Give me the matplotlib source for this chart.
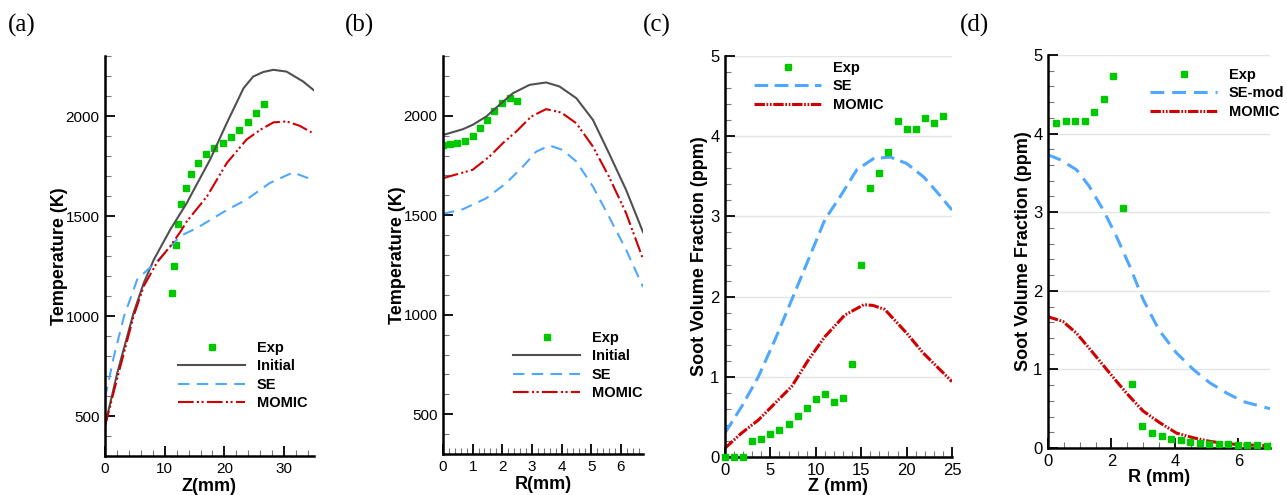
import matplotlib
matplotlib.use("Agg")
import matplotlib.pyplot as plt
from matplotlib.ticker import MultipleLocator

plt.rcParams['font.family'] = ['Liberation Sans', 'DejaVu Sans']

# (a) temperature along the axis
a_init_z = [0, 2.07, 4.8, 6.5, 8.2, 10.95, 13.7, 14.3, 17.6, 20.4, 23.2, 24.8, 26.5, 28.2, 30.4, 33.2, 35]
a_init_T = [452, 717, 1017, 1166, 1283, 1433, 1565, 1599, 1782, 1965, 2139, 2197, 2220, 2231, 2222, 2172, 2128]
a_se_z = [0, 1.5, 3.2, 5.4, 9, 12.6, 15.4, 20.4, 23.7, 27.6, 31.5, 35]
a_se_T = [590, 800, 1000, 1183, 1283, 1400, 1440, 1530, 1582, 1665, 1718, 1678]
a_mo_z = [0, 2.3, 4.8, 6.5, 8.7, 10.95, 12.6, 13.7, 17.1, 20.4, 23.7, 26, 28.2, 30.4, 32.6, 34.6]
a_mo_T = [450, 717, 1000, 1150, 1267, 1350, 1420, 1473, 1599, 1765, 1882, 1931, 1968, 1973, 1951, 1918]
a_exp_z = [11.3, 11.6, 11.9, 12.2, 12.8, 13.6, 14.45, 15.5, 16.9, 18.3, 19.7, 21.1, 22.5, 23.9, 25.3, 26.7]
a_exp_T = [1116, 1249, 1354, 1458, 1560, 1641, 1712, 1765, 1810, 1840, 1867, 1896, 1931, 1971, 2014, 2061]

# (b) temperature along the radius
b_init_r = [0, 0.67, 1, 1.46, 1.9, 2.36, 2.92, 3.48, 3.93, 4.5, 5.06, 5.6, 6.18, 6.75]
b_init_T = [1903, 1932, 1954, 1996, 2054, 2113, 2155, 2167, 2147, 2088, 1979, 1812, 1627, 1415]
b_se_r = [0, 0.67, 1.46, 2.13, 2.7, 3.15, 3.6, 4.04, 4.5, 5.06, 5.6, 6.18, 6.75]
b_se_T = [1507, 1530, 1585, 1661, 1745, 1820, 1850, 1828, 1770, 1644, 1493, 1326, 1140]
b_mo_r = [0, 1, 1.57, 2.02, 2.47, 2.98, 3.48, 3.99, 4.5, 5.06, 5.6, 6.18, 6.75]
b_mo_T = [1686, 1728, 1795, 1862, 1920, 1996, 2033, 2016, 1962, 1845, 1694, 1510, 1280]
b_exp_r = [0, 0.22, 0.48, 0.73, 1, 1.25, 1.48, 1.73, 2, 2.25, 2.5]
b_exp_T = [1853, 1857, 1862, 1875, 1900, 1936, 1977, 2023, 2066, 2091, 2076]

# (c) soot volume fraction along the axis
c_se_z = [0, 1.84, 3.67, 5.5, 7.35, 9.18, 11, 12.7, 14.5, 16.35, 18.2, 20, 21.9, 23.3, 25]
c_se_fv = [0.30, 0.63, 1.0, 1.46, 1.96, 2.46, 2.96, 3.25, 3.58, 3.72, 3.74, 3.66, 3.49, 3.31, 3.08]
c_mo_z = [0, 1.84, 3.67, 5.5, 7.35, 9.18, 11, 13.2, 15.3, 16.3, 17.6, 20, 21.8, 25]
c_mo_fv = [0.11, 0.30, 0.46, 0.67, 0.88, 1.21, 1.50, 1.77, 1.90, 1.89, 1.84, 1.545, 1.30, 0.94]
c_exp_z = list(range(0, 25))
c_exp_fv = [0, 0, 0, 0.2, 0.23, 0.29, 0.34, 0.41, 0.51, 0.61, 0.72, 0.78, 0.69, 0.73,
            1.16, 2.39, 3.36, 3.54, 3.80, 4.19, 4.09, 4.09, 4.23, 4.17, 4.25]

# (d) soot volume fraction along the radius
d_se_r = [0, 0.37, 0.9, 1.3, 1.74, 2.16, 2.58, 3, 3.5, 4.05, 4.58, 5.1, 5.63, 6.16, 7]
d_se_fv = [3.73, 3.67, 3.54, 3.33, 3.03, 2.69, 2.31, 1.89, 1.50, 1.21, 1.0, 0.83, 0.70, 0.59, 0.50]
d_mo_r = [0, 0.47, 0.9, 1.42, 1.95, 2.47, 3, 3.53, 4.05, 4.58, 5.1, 5.63, 6.16, 7]
d_mo_fv = [1.67, 1.61, 1.46, 1.21, 0.95, 0.70, 0.47, 0.32, 0.19, 0.13, 0.085, 0.055, 0.04, 0.03]
d_exp_r = [0.26, 0.56, 0.86, 1.17, 1.46, 1.77, 2.05, 2.36, 2.66, 2.97, 3.27, 3.58, 3.87, 4.18,
           4.47, 4.78, 5.08, 5.38, 5.68, 5.99, 6.28, 6.59, 6.9]
d_exp_fv = [4.14, 4.16, 4.16, 4.16, 4.28, 4.44, 4.73, 3.05, 0.82, 0.28, 0.19, 0.15, 0.11, 0.10,
            0.08, 0.06, 0.055, 0.05, 0.047, 0.042, 0.04, 0.035, 0.03]

GREEN = '#00c800'
BLUE = '#4fa8ff'
RED = '#d00000'
GRAY = '#505050'

W, H = 1287, 495
fig = plt.figure(figsize=(W / 100, H / 100), dpi=100)


def box(l, t, r, b):
    return [l / W, 1 - b / H, (r - l) / W, (b - t) / H]


def style(ax, xmin, ymin, size=11, grid=False):
    for s in ['top', 'right']:
        ax.spines[s].set_visible(False)
    for s in ['left', 'bottom']:
        ax.spines[s].set_linewidth(1.8)
    ax.xaxis.set_minor_locator(MultipleLocator(xmin))
    ax.yaxis.set_minor_locator(MultipleLocator(ymin))
    ax.tick_params(which='major', direction='in', length=7, width=1.3, labelsize=size, pad=4)
    ax.tick_params(which='minor', direction='in', length=4, width=0.8, color='#777777')
    if grid:
        ax.grid(axis='y', which='major', color='#e4e4e4', lw=1)
        ax.set_axisbelow(True)


def legend(ax, x, y):
    ax.legend(loc='upper left', bbox_to_anchor=(x / W, 1 - y / H), bbox_transform=fig.transFigure,
              frameon=False, borderpad=0, borderaxespad=0, handlelength=4.6, handletextpad=0.8,
              labelspacing=0.3, prop={'weight': 'bold', 'size': 10.5})


se_thin = (0, (5.5, 3.5))
momic_thin = (0, (7.5, 1.6, 1, 1.2, 1, 1.6))
momic_thick = (0, (3.4, 0.55, 0.55, 0.55, 0.55, 0.55))

# (a)
ax = fig.add_axes(box(105, 56, 314, 456))
ax.plot(a_exp_z, a_exp_T, 's', color=GREEN, ms=4.5, label='Exp')
ax.plot(a_init_z, a_init_T, '-', color=GRAY, lw=1.5, label='Initial')
ax.plot(a_se_z, a_se_T, color=BLUE, lw=1.5, ls=se_thin, label='SE')
ax.plot(a_mo_z, a_mo_T, color=RED, lw=1.5, ls=momic_thin, label='MOMIC')
ax.set_xlim(0, 35)
ax.set_ylim(300, 2300)
ax.set_xticks([0, 10, 20, 30])
ax.set_yticks([500, 1000, 1500, 2000])
style(ax, 2, 100)
ax.set_xlabel('Z(mm)', fontsize=13, fontweight='bold', labelpad=1.5)
ax.set_ylabel('Temperature (K)', fontsize=13, fontweight='bold', labelpad=-1.5)
legend(ax, 178, 341)

# (b)
ax = fig.add_axes(box(443, 56, 643, 454))
ax.plot(b_exp_r, b_exp_T, 's', color=GREEN, ms=4.5, label='Exp')
ax.plot(b_init_r, b_init_T, '-', color=GRAY, lw=1.5, label='Initial')
ax.plot(b_se_r, b_se_T, color=BLUE, lw=1.5, ls=se_thin, label='SE')
ax.plot(b_mo_r, b_mo_T, color=RED, lw=1.5, ls=momic_thin, label='MOMIC')
ax.set_xlim(0, 6.75)
ax.set_ylim(300, 2300)
ax.set_xticks(range(0, 7))
ax.set_yticks([500, 1000, 1500, 2000])
style(ax, 0.2, 100)
ax.set_xlabel('R(mm)', fontsize=13, fontweight='bold', labelpad=2)
ax.set_ylabel('Temperature (K)', fontsize=13, fontweight='bold', labelpad=-1.5)
legend(ax, 513, 331)

# (c)
ax = fig.add_axes(box(725, 56, 952, 457))
ax.plot(c_exp_z, c_exp_fv, 's', color=GREEN, ms=4.5, label='Exp', clip_on=False, zorder=4)
ax.plot(c_se_z, c_se_fv, color=BLUE, lw=2.2, ls=(0, (4.5, 2.1)), label='SE')
ax.plot(c_mo_z, c_mo_fv, color=RED, lw=2.2, ls=momic_thick, label='MOMIC')
ax.set_xlim(0, 25)
ax.set_ylim(0, 5)
ax.set_xticks([0, 5, 10, 15, 20, 25])
style(ax, 1, 0.2, size=12, grid=True)
ax.set_xlabel('Z (mm)', fontsize=13, fontweight='bold', labelpad=0)
ax.set_ylabel('Soot Volume Fraction (ppm)', fontsize=13, fontweight='bold', labelpad=1.5)
legend(ax, 754, 61)

# (d)
ax = fig.add_axes(box(1048, 55, 1270, 448))
ax.plot(d_exp_r, d_exp_fv, 's', color=GREEN, ms=4.5, label='Exp', clip_on=False, zorder=4)
ax.plot(d_se_r, d_se_fv, color=BLUE, lw=2.2, ls=(0, (4.5, 2.6)), label='SE-mod')
ax.plot(d_mo_r, d_mo_fv, color=RED, lw=2.2, ls=momic_thick, label='MOMIC')
ax.set_xlim(0, 7)
ax.set_ylim(0, 5)
ax.set_xticks([0, 2, 4, 6])
style(ax, 0.5, 0.2, size=12, grid=True)
ax.set_xlabel('R (mm)', fontsize=13, fontweight='bold', labelpad=0)
ax.set_ylabel('Soot Volume Fraction (ppm)', fontsize=13, fontweight='bold', labelpad=0.5)
legend(ax, 1150, 68)

for lab, x in [('(a)', 8), ('(b)', 345), ('(c)', 643), ('(d)', 960)]:
    fig.text(x / W, 1 - 25 / H, lab, family='Liberation Serif', fontsize=18, va='center', ha='left')

fig.savefig('out.png', dpi=100)
